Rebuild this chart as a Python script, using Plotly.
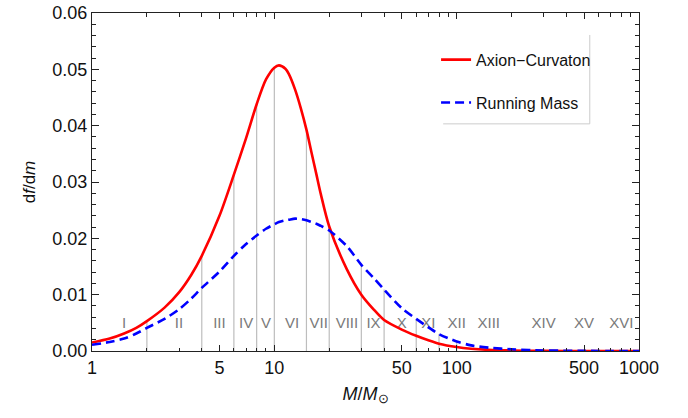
import plotly.graph_objects as go

# ---- data ----
mass = [1, 1.25, 1.5, 1.75, 2, 2.5, 3, 3.5, 4, 5, 6, 7, 8, 9, 10, 10.6, 11.5, 12, 13, 14, 15,
        16, 17, 18, 20, 25, 30, 35, 40, 50, 60, 70, 80, 100, 120, 150, 200, 300, 500, 1000]
axion_curvaton = [0.0015, 0.0022, 0.0031, 0.0041, 0.0053, 0.0077, 0.0104, 0.0135, 0.0169, 0.0240,
                  0.0313, 0.0378, 0.0438, 0.0482, 0.0503, 0.0507, 0.0501, 0.0492, 0.0464, 0.0430,
                  0.0393, 0.0352, 0.0314, 0.0278, 0.0221, 0.0145, 0.0100, 0.0074, 0.0055, 0.0038,
                  0.0027, 0.0019, 0.0013, 0.0007, 0.0004, 0.0002, 0.0001, 0.00003, 0.0, 0.0]
running_mass = [0.0011, 0.0016, 0.0022, 0.0031, 0.0041, 0.0057, 0.0074, 0.0093, 0.0112, 0.0141,
                0.0169, 0.0190, 0.0205, 0.0217, 0.0225, 0.0229, 0.0232, 0.0233, 0.0235, 0.0234,
                0.0232, 0.0229, 0.0226, 0.0222, 0.0214, 0.0186, 0.0153, 0.0130, 0.0109, 0.0076,
                0.0057, 0.0042, 0.0030, 0.0017, 0.0010, 0.0006, 0.0003, 0.0001, 0.00002, 0.0]

bin_edges = [2, 4, 6, 8, 10, 15, 20, 30, 40, 60, 80, 100]
bin_edge_tops = [0.0053, 0.0169, 0.0313, 0.0438, 0.0503, 0.0393, 0.0221, 0.0153, 0.0109,
                 0.0057, 0.0030, 0.0017]

bin_labels = ["I", "II", "III", "IV", "V", "VI", "VII", "VIII", "IX", "X", "XI", "XII",
              "XIII", "XIV", "XV", "XVI"]
bin_label_x = [1.5, 3, 5, 7, 9, 12.5, 17.5, 25, 35, 50, 70, 100, 150, 300, 500, 800]
bin_label_y = [0.0048] * len(bin_labels)

x_tickvals = [1, 5, 10, 50, 100, 500, 1000]
x_minor = [2, 3, 4, 6, 7, 8, 9, 20, 30, 40, 60, 70, 80, 90, 200, 300, 400, 600, 700, 800, 900]
y_tickvals = [0, 0.01, 0.02, 0.03, 0.04, 0.05, 0.06]

FONT = "Liberation Sans, Arial, Helvetica, sans-serif"

# vertical bin separators
vx, vy = [], []
for e, t in zip(bin_edges, bin_edge_tops):
    vx += [e, e, None]
    vy += [0, t, None]

fig = go.Figure()
fig.add_trace(go.Scatter(x=vx, y=vy, mode="lines", line=dict(color="#bdbdbd", width=1.2),
                         showlegend=False, hoverinfo="skip"))
fig.add_trace(go.Scatter(x=bin_label_x, y=bin_label_y, mode="text", text=bin_labels,
                         textfont=dict(family=FONT, size=15, color="#7a7a7a"),
                         showlegend=False, hoverinfo="skip"))
fig.add_trace(go.Scatter(x=mass, y=axion_curvaton, mode="lines", name="Axion\u2212Curvaton",
                         line=dict(color="#ff0000", width=2.6, shape="spline", smoothing=0.8),
                         legendgroup="a"))
fig.add_trace(go.Scatter(x=mass, y=running_mass, mode="lines", name="Running Mass",
                         line=dict(color="#0000ff", width=2.6, dash="9px,5px", shape="spline",
                                   smoothing=0.8),
                         legendgroup="b"))

axis_common = dict(showline=True, linecolor="#222", linewidth=1, mirror="allticks",
                   ticks="inside", tickcolor="#222", showgrid=False, zeroline=False,
                   automargin=False,
                   tickfont=dict(family=FONT, size=18, color="#111"))

fig.update_xaxes(type="log", range=[0, 3], tickvals=x_tickvals,
                 ticktext=[str(v) for v in x_tickvals], ticklen=6,
                 minor=dict(ticks="inside", ticklen=3.5, tickvals=x_minor, tickcolor="#222"),
                 title=dict(text="<i>M</i>/<i>M</i><sub>\u2299</sub>",
                            font=dict(family=FONT, size=18, color="#111"), standoff=10),
                 **axis_common)
fig.update_yaxes(range=[0, 0.06], tickvals=y_tickvals, tickformat=".2f", ticklen=7,
                 minor=dict(ticks="inside", ticklen=4, dtick=0.002, tickcolor="#222"),
                 title=dict(text="d<i>f</i>/d<i>m</i>",
                            font=dict(family=FONT, size=17, color="#111"), standoff=12),
                 **axis_common)

fig.update_layout(
    width=688, height=418,
    margin=dict(l=92, r=49, t=13, b=67),
    plot_bgcolor="white", paper_bgcolor="white",
    font=dict(family=FONT),
    legend=dict(x=0.629, y=0.912, xanchor="left", yanchor="top",
                bgcolor="rgba(255,255,255,0)", borderwidth=0,
                font=dict(family=FONT, size=16, color="#111"),
                tracegroupgap=19, itemwidth=30),
    shapes=[
        dict(type="line", xref="paper", yref="paper", x0=0.910, x1=0.910, y0=0.672, y1=0.935,
             line=dict(color="#cccccc", width=1)),
        dict(type="line", xref="paper", yref="paper", x0=0.642, x1=0.910, y0=0.672, y1=0.672,
             line=dict(color="#cccccc", width=1)),
    ],
)

fig.write_html("out.html", config={"displayModeBar": False},
               post_script="document.body.style.margin='0';")
